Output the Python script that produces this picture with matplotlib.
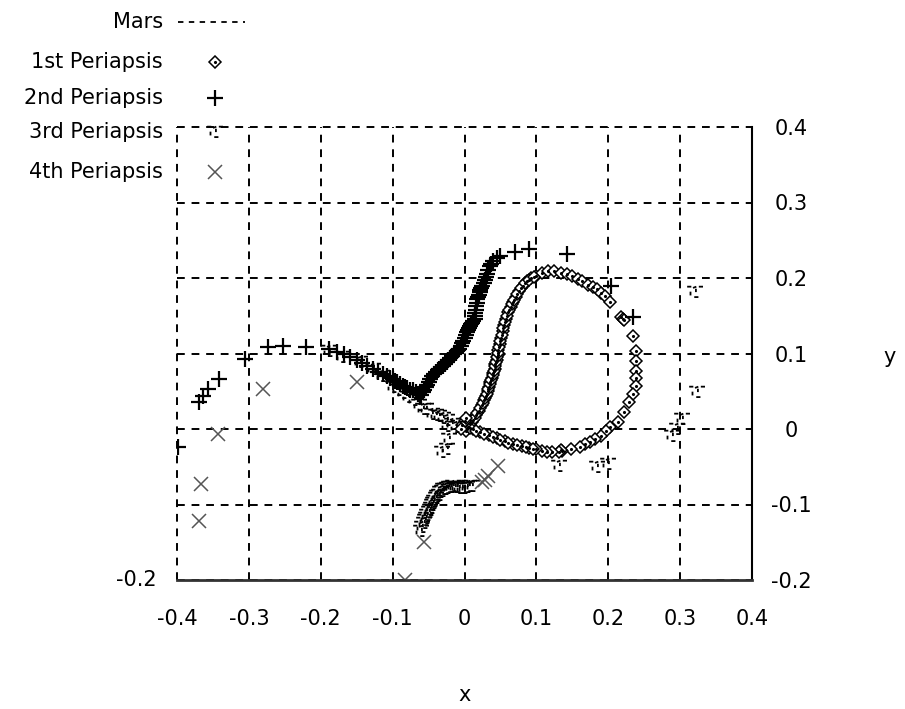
import matplotlib
matplotlib.use("Agg")
import matplotlib.pyplot as plt
from matplotlib.path import Path
from matplotlib.lines import Line2D
import numpy as np

plt.rcParams['font.family'] = ['DejaVu Sans']

# ---- data ----
series_names = ['Mars', '1st Periapsis', '2nd Periapsis', '3rd Periapsis', '4th Periapsis']

p1_x = [0.004, 0.008, 0.012, 0.016, 0.020, 0.024, 0.027, 0.030, 0.032, 0.034, 0.036, 0.038,
        0.040, 0.042, 0.043, 0.045, 0.046, 0.047, 0.049, 0.051, 0.053, 0.055, 0.058, 0.061,
        0.064, 0.067, 0.071, 0.076, 0.081, 0.087, 0.093, 0.100, 0.108, 0.116, 0.125, 0.134,
        0.142, 0.150, 0.158, 0.164, 0.172, 0.179, 0.185, 0.190, 0.195, 0.203, 0.218, 0.220,
        0.222, 0.234, 0.239, 0.239, 0.239, 0.238, 0.238, 0.234, 0.229, 0.222, 0.213, 0.202,
        0.197, 0.190, 0.182, 0.174, 0.167, 0.160, 0.148, 0.136, 0.134, 0.132, 0.122, 0.115,
        0.108, 0.100, 0.090, 0.080, 0.067, 0.056, 0.045, 0.034, 0.021, 0.012, 0.005,
        0.002, 0.006, 0.010, 0.014, 0.018, 0.022, 0.0255, 0.0285, 0.031, 0.033, 0.035, 0.037,
        0.039, 0.041, 0.0425, 0.044, 0.0455, 0.0465, 0.048, 0.050, 0.052, 0.054, 0.0565, 0.0595,
        0.0625, 0.0655, 0.069, 0.0735, 0.0785, 0.084, 0.090, 0.0965,
        0.008, 0.016, 0.027, 0.039, 0.050, 0.061, 0.073, 0.085, 0.095,
        -0.003, 0.000, -0.005, 0.002]
p1_y = [0.000, 0.006, 0.012, 0.018, 0.024, 0.032, 0.038, 0.044, 0.050, 0.056, 0.062, 0.068,
        0.074, 0.080, 0.086, 0.092, 0.098, 0.104, 0.112, 0.120, 0.130, 0.138, 0.146, 0.155,
        0.162, 0.168, 0.175, 0.183, 0.190, 0.196, 0.200, 0.203, 0.207, 0.209, 0.209, 0.207,
        0.205, 0.202, 0.199, 0.196, 0.191, 0.188, 0.185, 0.180, 0.176, 0.168, 0.148, 0.146,
        0.144, 0.123, 0.103, 0.090, 0.077, 0.067, 0.057, 0.046, 0.036, 0.023, 0.009, 0.003,
        -0.003, -0.009, -0.013, -0.017, -0.020, -0.024, -0.026, -0.029, -0.028, -0.031, -0.030, -0.030,
        -0.029, -0.027, -0.025, -0.023, -0.020, -0.016, -0.012, -0.008, -0.004, 0.000, 0.002,
        -0.002, 0.003, 0.009, 0.015, 0.021, 0.028, 0.035, 0.041, 0.047, 0.053, 0.059, 0.065,
        0.071, 0.077, 0.083, 0.089, 0.095, 0.101, 0.108, 0.116, 0.125, 0.134, 0.142, 0.150,
        0.158, 0.165, 0.171, 0.179, 0.187, 0.193, 0.198, 0.2015,
        0.001, -0.002, -0.006, -0.010, -0.014, -0.018, -0.021, -0.024, -0.026,
        0.005, 0.010, 0.000, 0.015]

p2_x = [-0.399, -0.369, -0.364, -0.357, -0.341, -0.306, -0.274, -0.253, -0.220, -0.188, -0.178,
        -0.168, -0.160, -0.150, -0.142, -0.136, -0.128, -0.120, -0.114, -0.108, -0.100, -0.094,
        -0.090, -0.086, -0.080, -0.072, -0.068, -0.063, -0.060, -0.058, -0.054, -0.050, -0.045,
        -0.040, -0.035, -0.030, -0.025, -0.020, -0.015, -0.010, -0.007, -0.003, 0.000, 0.003,
        0.006, 0.009, 0.012, 0.014, 0.015, 0.016, 0.018, 0.020, 0.022, 0.025, 0.028, 0.031,
        0.035, 0.040, 0.049, 0.070, 0.090, 0.143, 0.204, 0.234,
        -0.056, -0.052, -0.048, -0.0425, -0.0375, -0.0325, -0.0275, -0.0225, -0.0175, -0.0125,
        -0.0085, -0.005, -0.0015, 0.0015, 0.0045, 0.0075, 0.0105, 0.0145, 0.0155, 0.017,
        0.019, 0.021, 0.0235, 0.0265, 0.0295, 0.033, 0.0375, 0.045,
        -0.104, -0.097, -0.083, -0.076, -0.065]
p2_y = [-0.024, 0.036, 0.044, 0.053, 0.066, 0.093, 0.109, 0.110, 0.109, 0.106, 0.102,
        0.099, 0.095, 0.091, 0.087, 0.083, 0.079, 0.076, 0.073, 0.070, 0.066, 0.062,
        0.060, 0.057, 0.054, 0.051, 0.049, 0.046, 0.045, 0.049, 0.055, 0.062, 0.070,
        0.075, 0.080, 0.084, 0.089, 0.094, 0.099, 0.103, 0.106, 0.114, 0.120, 0.128,
        0.134, 0.139, 0.143, 0.146, 0.154, 0.163, 0.172, 0.178, 0.184, 0.190, 0.197, 0.205,
        0.216, 0.222, 0.229, 0.234, 0.238, 0.232, 0.189, 0.148,
        0.052, 0.058, 0.066, 0.0725, 0.0775, 0.082, 0.0865, 0.0915, 0.0965, 0.101,
        0.1045, 0.110, 0.117, 0.124, 0.131, 0.1365, 0.141, 0.150, 0.158, 0.167,
        0.175, 0.181, 0.187, 0.193, 0.201, 0.210, 0.219, 0.226,
        0.068, 0.064, 0.055, 0.052, 0.047]

p3_x = [-0.188, -0.170, -0.146, -0.128, -0.115, -0.100, -0.085, -0.070, -0.058, -0.053,
        -0.045, -0.035, -0.025, -0.018, -0.025, -0.021, -0.031, -0.025,
        -0.060, -0.057, -0.054, -0.050, -0.047, -0.044, -0.040, -0.036, -0.032, -0.027,
        -0.022, -0.016, -0.010, -0.004, 0.003, 0.010,
        0.132, 0.184, 0.200, 0.320, 0.323, 0.302, 0.295, 0.288,
        -0.0585, -0.0555, -0.052, -0.0485, -0.0455, -0.042, -0.038, -0.034, -0.0295, -0.0245,
        -0.019, -0.013, -0.007, -0.001, 0.006,
        -0.092, -0.078, -0.064, -0.040, -0.030, -0.012]
p3_y = [0.103, 0.096, 0.089, 0.079, 0.070, 0.056, 0.048, 0.038, 0.026, 0.026,
        0.020, 0.017, 0.012, 0.006, 0.004, -0.013, -0.030, -0.026,
        -0.135, -0.125, -0.118, -0.110, -0.104, -0.098, -0.092, -0.087, -0.082, -0.079,
        -0.077, -0.076, -0.077, -0.078, -0.077, -0.075,
        -0.049, -0.050, -0.046, 0.181, 0.049, 0.013, 0.000, -0.009,
        -0.130, -0.121, -0.114, -0.107, -0.101, -0.095, -0.089, -0.084, -0.080, -0.078,
        -0.0765, -0.0765, -0.0775, -0.0775, -0.076,
        0.052, 0.043, 0.032, 0.018, 0.015, 0.003]

p4_x = [-0.366, -0.369, -0.343, -0.281, -0.150, -0.083, -0.056, 0.024, 0.028, 0.033, 0.046]
p4_y = [-0.073, -0.122, -0.007, 0.053, 0.062, -0.200, -0.150, -0.070, -0.068, -0.062, -0.049]

x_ticks = [-0.4, -0.3, -0.2, -0.1, 0.0, 0.1, 0.2, 0.3, 0.4]
x_tick_labels = ['-0.4', '-0.3', '-0.2', '-0.1', '0', '0.1', '0.2', '0.3', '0.4']
y_ticks = [-0.2, -0.1, 0.0, 0.1, 0.2, 0.3, 0.4]
y_tick_labels = ['-0.2', '-0.1', '0', '0.1', '0.2', '0.3', '0.4']

# gnuplot-ish scattered dash glyph for the 3rd periapsis
glyph_verts = [(-1.0, 0.7), (-0.5, 0.7), (-0.3, 0.55), (0.1, 0.7), (0.4, 0.7), (0.9, 0.7),
               (0.05, 0.45), (0.05, 0.05), (-0.6, 0.1), (-0.6, -0.35), (-0.15, -0.55), (0.35, -0.55)]
glyph_codes = [Path.MOVETO, Path.LINETO] * 6
glyph = Path(glyph_verts, glyph_codes)

diamond = dict(marker='D', ms=6.5, mfc='white', mec='black', mew=1.1)
dot = dict(marker='.', ms=2.5, color='black')
plus = dict(marker='+', ms=11, color='black', mew=1.6)
dash_glyph = dict(marker=glyph, ms=12, color='black', mew=1.3)
cross = dict(marker='x', ms=10, color='#555555', mew=1.1)

W, H = 905, 709
fig = plt.figure(figsize=(W / 100, H / 100), dpi=100)
ax = fig.add_axes([177 / W, 1 - 580 / H, (752 - 177) / W, (580 - 127) / H])

ax.plot(p1_x, p1_y, ls='none', **diamond)
ax.plot(p1_x, p1_y, ls='none', **dot)
ax.plot(p2_x, p2_y, ls='none', **plus)
ax.plot(p3_x, p3_y, ls='none', **dash_glyph)
ax.plot(p4_x, p4_y, ls='none', **cross)

ax.set_xlim(-0.4, 0.4)
ax.set_ylim(-0.2, 0.4)
ax.set_xticks(x_ticks)
ax.set_xticklabels(x_tick_labels)
ax.set_yticks(y_ticks)
ax.set_yticklabels(y_tick_labels)
ax.yaxis.tick_right()
ax.tick_params(length=0, labelsize=15, pad=28)
for lab in ax.get_xticklabels():
    lab.set_va('center')
for lab in ax.get_yticklabels():
    lab.set_ha('center')

ax.grid(True, color='black', lw=1.4, ls=(0, (4, 3.5)))
for gl in ax.get_xgridlines() + ax.get_ygridlines():
    gl.set_clip_on(False)
ax.set_axisbelow(True)
ax.spines['left'].set_visible(False)
ax.spines['top'].set_visible(False)
ax.spines['bottom'].set_color('#333333')
ax.spines['bottom'].set_linewidth(2)
ax.spines['right'].set_linewidth(1.5)

fig.text(465 / W, 1 - 695 / H, 'x', ha='center', va='center', fontsize=15)
fig.text(890 / W, 1 - 357 / H, 'y', ha='center', va='center', fontsize=15)
fig.text(157 / W, 1 - 580 / H, '-0.2', ha='right', va='center', fontsize=15)

# legend, top left outside the plot
rows = [22, 62, 98, 132, 172]
for name, py in zip(series_names, rows):
    fig.text(163 / W, 1 - py / H, name, ha='right', va='center', fontsize=15)
yf = [1 - p / H for p in rows]
fig.add_artist(Line2D([178 / W, 245 / W], [yf[0], yf[0]], transform=fig.transFigure,
                      color='black', lw=1.3, ls=(0, (3, 3))))
for sty, y in zip([diamond, dot, plus, dash_glyph, cross], [yf[1], yf[1], yf[2], yf[3], yf[4]]):
    fig.add_artist(Line2D([215 / W], [y], transform=fig.transFigure, ls='none', **sty))

fig.savefig('out.png', dpi=100)
